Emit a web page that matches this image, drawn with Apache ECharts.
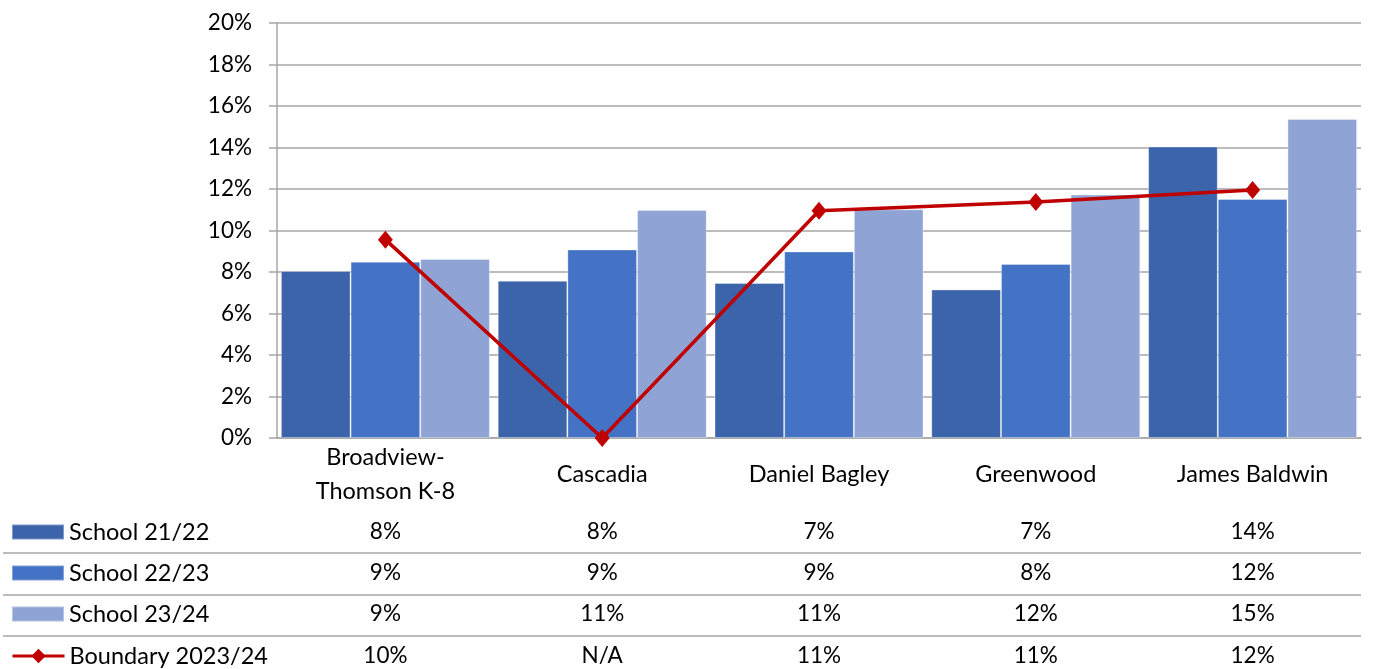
<!DOCTYPE html>
<html><head><meta charset="utf-8">
<script src="https://cdn.jsdelivr.net/npm/echarts@6/dist/echarts.min.js"></script>
<style>html,body{margin:0;padding:0;background:#fff}#c{width:1373px;height:669px}</style>
</head><body><div id="c"></div>
<script>
const categories = ['Broadview-\nThomson K-8', 'Cascadia', 'Daniel Bagley', 'Greenwood', 'James Baldwin'];
const school2122 = [8.05, 7.58, 7.47, 7.16, 14.05];
const school2223 = [8.5, 9.09, 8.99, 8.39, 11.52];
const school2324 = [8.63, 10.99, 11.02, 11.73, 15.37];
const boundary = [9.56, 0, 10.95, 11.37, 11.95];
const boundaryAvailable = [true, false, true, true, true];
const seriesNames = ['School 21/22', 'School 22/23', 'School 23/24', 'Boundary 2023/24'];
const yTicks = [0, 2, 4, 6, 8, 10, 12, 14, 16, 18, 20];

const FONT = 'Lato';
const colors = ['#3C64AA', '#4472C4', '#8FA4D4', '#C00000'];
const rowCenters = [532, 573, 614, 656];
const tableRows = [
  school2122.map(v => Math.round(v) + '%'),
  school2223.map(v => Math.round(v) + '%'),
  school2324.map(v => Math.round(v) + '%'),
  boundary.map((v, i) => boundaryAvailable[i] ? Math.round(v) + '%' : 'N/A')
];
const axisY = 438;

const xAxes = [{
  type: 'category', data: categories, position: 'bottom',
  axisLine: { lineStyle: { color: '#A6A6A6', width: 1.5 } },
  axisTick: { show: false },
  axisLabel: { fontFamily: FONT, fontSize: 23.5, color: '#000', lineHeight: 34, verticalAlign: 'middle', margin: 36, interval: 0 }
}];
tableRows.forEach((row, r) => {
  xAxes.push({
    type: 'category', data: categories, position: 'bottom', offset: rowCenters[r] - axisY,
    axisLine: { show: false }, axisTick: { show: false }, splitLine: { show: false },
    axisLabel: { fontFamily: FONT, fontSize: 22.5, color: '#000', verticalAlign: 'middle', margin: 0, interval: 0,
      formatter: (v, i) => row[i] }
  });
});

const barStyle = c => ({ color: c, borderColor: 'rgba(255,255,255,0.35)', borderWidth: 1 });

const chart = echarts.init(document.getElementById('c'), null, { renderer: 'canvas' });
chart.setOption({
  animation: false,
  textStyle: { fontFamily: FONT },
  grid: { left: 277, right: 12, top: 23, bottom: 669 - axisY, containLabel: false },
  xAxis: xAxes,
  yAxis: {
    type: 'value', min: yTicks[0], max: yTicks[yTicks.length - 1], interval: 2,
    axisLine: { show: true, lineStyle: { color: '#A6A6A6', width: 1.5 } },
    axisTick: { show: true, length: 8, lineStyle: { color: '#A6A6A6', width: 1.5 } },
    splitLine: { lineStyle: { color: '#A6A6A6', width: 1.5 } },
    axisLabel: { fontFamily: FONT, fontSize: 22.5, color: '#000', margin: 25, formatter: '{value}%' }
  },
  legend: seriesNames.map((n, i) => ({
    data: [n], left: 11, top: rowCenters[i] - 12, orient: 'horizontal', padding: 0,
    itemWidth: 52, itemHeight: i === 3 ? 18 : 15, itemGap: 5, selectedMode: false,
    icon: i === 3 ? undefined : 'rect',
    lineStyle: { width: 3 },
    textStyle: { fontFamily: FONT, fontSize: 23.5, color: '#000', lineHeight: 24 }
  })),
  graphic: [553, 595, 636].map(y => ({
    type: 'line', shape: { x1: 3, y1: y, x2: 1361, y2: y },
    style: { stroke: '#A6A6A6', lineWidth: 1.5 }, silent: true
  })),
  series: [
    { name: seriesNames[0], type: 'bar', data: school2122, itemStyle: barStyle(colors[0]), barGap: '0%', barCategoryGap: '3.6%' },
    { name: seriesNames[1], type: 'bar', data: school2223, itemStyle: barStyle(colors[1]), barGap: '0%', barCategoryGap: '3.6%' },
    { name: seriesNames[2], type: 'bar', data: school2324, itemStyle: barStyle(colors[2]), barGap: '0%', barCategoryGap: '3.6%' },
    { name: seriesNames[3], type: 'line', data: boundary, z: 5,
      lineStyle: { color: colors[3], width: 3.5 }, itemStyle: { color: colors[3] },
      symbol: 'diamond', symbolSize: [15, 18], showSymbol: true, clip: false }
  ]
});
</script></body></html>
